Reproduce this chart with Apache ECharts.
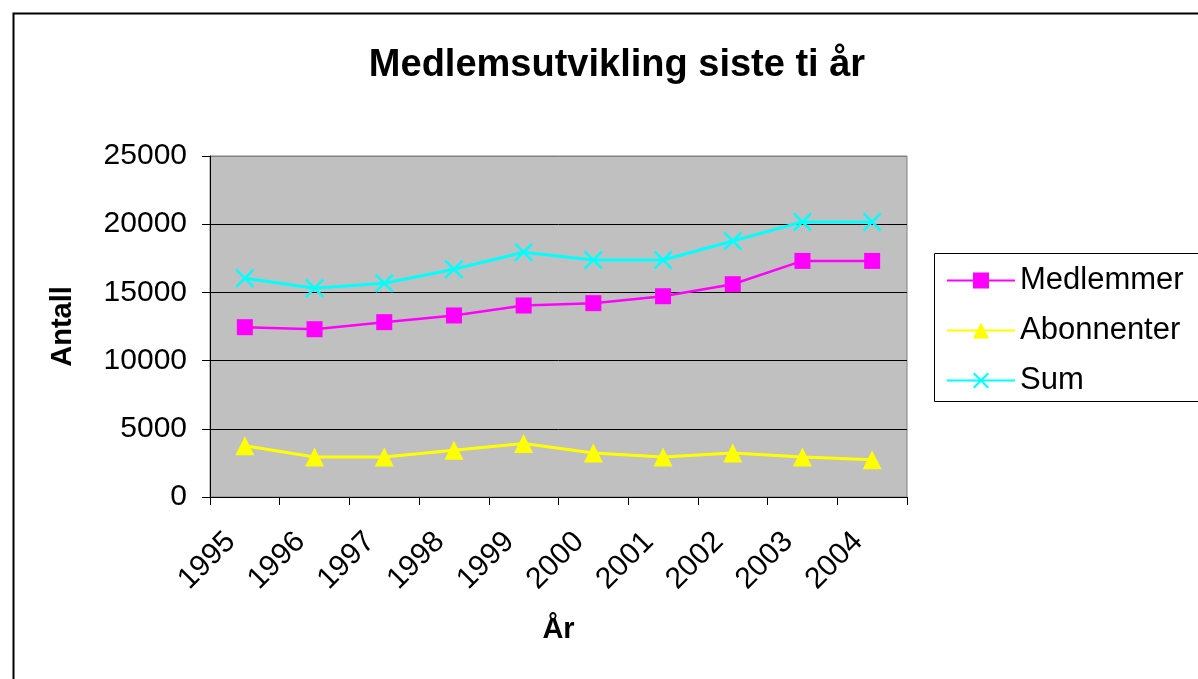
<!DOCTYPE html>
<html>
<head>
<meta charset="utf-8">
<script src="https://cdn.jsdelivr.net/npm/echarts@6/dist/echarts.min.js"></script>
<style>html,body{margin:0;padding:0;background:#fff;}#c{width:1198px;height:679px;}</style>
</head>
<body>
<div id="c"></div>
<script>
const years = ['1995','1996','1997','1998','1999','2000','2001','2002','2003','2004'];
const medlemmer = [12450, 12300, 12820, 13310, 14040, 14210, 14720, 15600, 17310, 17310];
const abonnenter = [3760, 2930, 2930, 3420, 3930, 3220, 2930, 3220, 2930, 2730];
const sum = [16040, 15310, 15670, 16700, 17940, 17380, 17380, 18770, 20170, 20170];
const seriesNames = ['Medlemmer', 'Abonnenter', 'Sum'];

const FONT = 'Liberation Sans, Arial, sans-serif';
const xPath = 'path://M0,1.5L1.5,0L8,6.5L14.5,0L16,1.5L9.5,8L16,14.5L14.5,16L8,9.5L1.5,16L0,14.5L6.5,8Z';

const chart = echarts.init(document.getElementById('c'), null, {renderer: 'canvas'});
chart.setOption({
  animation: false,
  backgroundColor: '#ffffff',
  textStyle: {fontFamily: FONT},
  title: {
    text: 'Medlemsutvikling siste ti år',
    left: 612, top: 42, textAlign: 'center',
    textStyle: {fontFamily: FONT, fontSize: 38, fontWeight: 'bold', color: '#000'}
  },
  graphic: [
    {type: 'rect', left: 11, top: 11, shape: {width: 1300, height: 800},
     style: {fill: 'none', stroke: '#000', lineWidth: 2}, z: -10, silent: true},
    {type: 'rect', left: 934, top: 253, shape: {width: 400, height: 148},
     style: {fill: '#fff', stroke: '#000', lineWidth: 1}, z: -5, silent: true}
  ],
  legend: {
    orient: 'vertical', left: 946, top: 265, padding: 0,
    itemWidth: 68, itemHeight: 20, itemGap: 19,
    data: seriesNames,
    lineStyle: {width: 2},
    textStyle: {fontFamily: FONT, fontSize: 31, color: '#000', lineHeight: 31}
  },
  grid: {left: 210, right: 291, top: 156, bottom: 182, show: true,
         backgroundColor: '#C0C0C0', borderColor: '#808080', borderWidth: 1},
  xAxis: {
    type: 'category', data: years, boundaryGap: true,
    name: 'År', nameLocation: 'middle', nameGap: 118,
    nameTextStyle: {fontFamily: FONT, fontSize: 29, fontWeight: 'bold', color: '#000'},
    axisLine: {show: true, lineStyle: {color: '#000', width: 1}},
    axisTick: {show: true, inside: false, length: 8, lineStyle: {color: '#000'}},
    axisLabel: {interval: 0, rotate: 45, margin: 26, align: 'right', verticalAlign: 'middle',
                padding: [0, 20, 20, 0],
                fontFamily: FONT, fontSize: 30, color: '#000'},
    splitLine: {show: false}
  },
  yAxis: {
    type: 'value', min: 0, max: 25000, interval: 5000,
    name: 'Antall', nameLocation: 'middle', nameGap: 133,
    nameTextStyle: {fontFamily: FONT, fontSize: 29, fontWeight: 'bold', color: '#000'},
    axisLine: {show: true, lineStyle: {color: '#000', width: 1}},
    axisTick: {show: true, inside: false, length: 8, lineStyle: {color: '#000'}},
    axisLabel: {margin: 23, fontFamily: FONT, fontSize: 30, color: '#000',
                formatter: function (v) { return String(v); }},
    splitLine: {show: true, lineStyle: {color: ['#000','#000','#000','#000','#000','#808080'], width: 1}}
  },
  series: [
    {name: seriesNames[0], type: 'line', data: medlemmer, symbol: 'rect', symbolSize: 16,
     lineStyle: {color: '#FF00FF', width: 2.5}, itemStyle: {color: '#FF00FF'}, z: 3},
    {name: seriesNames[1], type: 'line', data: abonnenter, symbol: 'triangle', symbolSize: 19,
     lineStyle: {color: '#FFFF00', width: 3}, itemStyle: {color: '#FFFF00'}, z: 3},
    {name: seriesNames[2], type: 'line', data: sum, symbol: xPath, symbolSize: 19,
     lineStyle: {color: '#00FFFF', width: 3}, itemStyle: {color: '#00FFFF'}, z: 3}
  ]
});
</script>
</body>
</html>
